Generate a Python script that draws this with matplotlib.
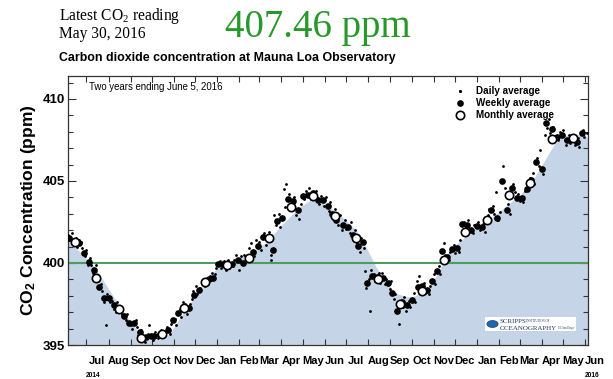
#!/usr/bin/env python3
"""Mauna Loa CO2 two-year record (Scripps style)."""

import matplotlib
matplotlib.use("Agg")
import matplotlib.pyplot as plt
import matplotlib.dates as mdates
import numpy as np
from matplotlib.lines import Line2D
from matplotlib.patches import Circle, Rectangle
from matplotlib.ticker import MultipleLocator, NullFormatter

W, H = 613, 379
START = np.datetime64("2014-06-05")
END = np.datetime64("2016-06-05")

monthly_months = [
    "2014-06", "2014-07", "2014-08", "2014-09", "2014-10", "2014-11", "2014-12",
    "2015-01", "2015-02", "2015-03", "2015-04", "2015-05", "2015-06", "2015-07",
    "2015-08", "2015-09", "2015-10", "2015-11", "2015-12", "2016-01", "2016-02",
    "2016-03", "2016-04", "2016-05",
]
monthly_ppm = [
    401.30, 399.06, 397.20, 395.44, 395.70, 397.27, 398.85,
    399.90, 400.30, 401.50, 403.40, 404.10, 402.85, 401.55,
    399.00, 397.50, 398.30, 400.20, 401.90, 402.65, 404.15,
    404.87, 407.55, 407.65,
]

# days after 2014-06-05
weekly_day = [
    2, 9, 16, 23, 29, 37, 44, 51, 57, 65, 72, 79, 86, 93, 101, 110, 117, 121,
    129, 141, 148, 155, 163, 170, 177, 184, 191, 198, 204, 211, 218, 223, 230,
    239, 246, 253, 260, 267, 274, 281, 288, 294, 301, 309, 316, 323, 330, 337,
    344, 351, 358, 365, 371, 377, 387, 394, 400, 408, 414, 421, 428, 435, 443,
    450, 456, 463, 469, 477, 484, 492, 498, 505, 512, 519, 526, 533, 540, 547,
    554, 561, 567, 575, 582, 588, 595, 603, 610, 617, 624, 631, 638, 645, 651,
    658, 666, 672, 680, 687, 694, 702, 709, 715, 722,
]
weekly_ppm = [
    401.55, 401.30, 401.22, 400.58, 400.07, 399.60, 398.55, 397.88, 397.88,
    397.43, 397.20, 396.76, 396.36, 396.36, 395.80, 395.50, 395.55, 395.55,
    395.70, 395.91, 396.52, 396.93, 397.30, 397.23, 398.04, 398.35, 398.75,
    399.00, 399.06, 399.91, 399.91, 399.90, 399.93, 400.21, 400.00, 400.30,
    400.70, 401.02, 401.59, 401.50, 400.82, 402.56, 402.74, 403.88, 403.78,
    403.21, 404.08, 404.12, 404.26, 403.86, 403.82, 403.45, 403.00, 402.60,
    402.34, 402.20, 401.70, 401.02, 401.28, 398.75, 399.22, 399.15, 399.10,
    398.79, 398.18, 397.09, 397.60, 397.43, 397.74, 398.55, 398.60, 398.35,
    398.90, 399.52, 400.74, 400.37, 400.84, 400.94, 402.40, 402.30, 402.00,
    402.24, 402.20, 402.60, 403.24, 402.77, 404.99, 403.25, 404.59, 403.98,
    403.98, 404.52, 405.04, 406.15, 405.71, 408.52, 408.18, 407.71, 407.81,
    407.51, 407.57, 407.40, 407.91,
]

daily_day = [
    0, 3, 5, 8, 11, 13, 15, 18, 20, 24, 26, 28, 31, 33, 35, 39, 40, 42, 46, 48,
    50, 53, 55, 59, 62, 64, 67, 69, 74, 76, 81, 83, 88, 90, 95, 97, 99, 103, 106,
    108, 112, 114, 119, 123, 125, 127, 131, 133, 136, 139, 143, 145, 150, 152,
    157, 159, 161, 165, 167, 172, 174, 176, 180, 182, 186, 188, 193, 195, 197,
    200, 202, 206, 208, 213, 215, 220, 222, 225, 227, 232, 234, 236, 241, 243,
    248, 250, 255, 257, 262, 264, 269, 271, 276, 278, 283, 285, 286, 290, 292,
    296, 298, 303, 305, 307, 311, 313, 318, 320, 325, 327, 332, 334, 339, 341,
    346, 348, 353, 355, 360, 362, 367, 369, 373, 375, 379, 382, 385, 389, 391,
    396, 398, 402, 404, 406, 410, 412, 416, 418, 419, 423, 425, 426, 430, 432,
    437, 439, 441, 445, 447, 452, 454, 458, 460, 465, 466, 471, 473, 475, 479,
    481, 486, 488, 490, 494, 496, 500, 502, 507, 509, 514, 516, 521, 523, 528,
    530, 535, 537, 542, 544, 549, 551, 556, 558, 563, 565, 569, 571, 577, 579,
    584, 586, 590, 592, 597, 599, 601, 605, 607, 612, 614, 619, 621, 626, 628,
    633, 635, 640, 642, 647, 649, 653, 655, 660, 662, 664, 668, 670, 674, 676,
    678, 682, 684, 689, 691, 696, 698, 700, 704, 706, 711, 713, 717, 719, 724,
    726, 729,
]
daily_ppm = [
    401.7, 401.4, 401.8, 401.1, 401.5, 401.0, 401.4, 401.3, 400.9, 400.4, 400.8,
    399.9, 400.3, 399.9, 399.4, 399.2, 399.9, 398.9, 398.7, 398.3, 397.6, 396.2,
    398.1, 397.6, 397.7, 397.2, 397.0, 397.6, 397.0, 396.9, 396.5, 396.9, 396.2,
    396.0, 396.5, 396.1, 395.6, 395.9, 395.4, 395.2, 395.7, 396.2, 395.3, 395.8,
    395.6, 395.4, 395.9, 395.5, 395.8, 396.1, 395.7, 396.3, 396.6, 396.2, 397.2,
    396.7, 397.6, 397.5, 396.9, 397.5, 397.8, 398.3, 398.6, 398.1, 398.5, 398.9,
    398.6, 399.1, 398.7, 399.2, 399.4, 399.3, 399.7, 400.1, 399.7, 400.1, 399.6,
    400.2, 399.7, 399.8, 400.2, 400.5, 399.6, 400.4, 400.5, 400.2, 400.9, 401.2,
    400.4, 401.4, 401.3, 400.8, 401.8, 401.1, 401.9, 400.5, 400.2, 402.9, 402.3,
    403.0, 402.2, 404.5, 403.4, 404.8, 404.2, 403.5, 404.0, 402.9, 402.7, 403.6,
    403.9, 404.4, 404.6, 403.9, 404.0, 404.4, 403.6, 404.1, 403.5, 404.0, 403.2,
    403.7, 402.9, 403.3, 402.3, 402.9, 402.0, 402.6, 402.1, 401.8, 402.5, 401.4,
    402.0, 401.2, 400.7, 401.5, 400.9, 399.5, 398.5, 399.0, 397.1, 399.6, 399.3,
    398.9, 399.4, 398.8, 399.4, 398.7, 399.0, 398.4, 398.9, 397.8, 398.1, 396.3,
    397.6, 397.3, 397.9, 397.1, 397.7, 397.3, 398.2, 397.6, 398.9, 399.2, 398.3,
    398.8, 398.2, 398.1, 398.6, 399.3, 398.7, 399.8, 399.3, 401.2, 400.5, 400.2,
    400.7, 401.1, 400.6, 400.7, 401.4, 402.5, 402.1, 402.6, 402.1, 401.8, 402.3,
    402.5, 402.0, 402.4, 401.9, 402.9, 403.3, 403.5, 403.0, 404.3, 402.6, 403.1,
    405.9, 404.6, 403.6, 403.0, 404.8, 404.3, 404.2, 403.8, 403.7, 404.4, 404.8,
    405.2, 405.5, 404.8, 406.4, 405.9, 406.9, 405.4, 407.8, 408.2, 408.8, 407.9,
    408.3, 407.7, 407.5, 408.0, 408.1, 407.5, 407.2, 407.8, 407.3, 407.8, 407.2,
    407.6, 407.1, 408.1, 407.7, 407.9,
]

# smooth seasonal curve under the data (shaded)
curve_day = [
    0, 17, 34, 51, 67, 84, 101, 115, 129, 143, 160, 177, 192, 209, 232, 256,
    279, 302, 326, 340, 347, 363, 377, 387, 405, 419, 433, 448, 462, 476, 485,
    494, 508, 522, 536, 550, 567, 590, 614, 637, 656, 670, 684, 698, 710, 721,
    731,
]
curve_ppm = [
    401.45, 400.66, 399.93, 398.83, 397.74, 396.64, 395.67, 395.30, 395.36,
    395.67, 396.85, 397.86, 398.77, 399.67, 400.17, 400.58, 401.28, 402.40,
    403.41, 403.82, 403.86, 403.55, 403.10, 402.75, 401.99, 400.98, 399.76,
    398.75, 398.14, 397.94, 397.94, 398.14, 398.55, 399.56, 400.78, 401.30,
    401.90, 402.60, 403.41, 404.23, 405.24, 406.25, 407.27, 407.77, 407.87,
    407.77, 407.67,
]

latest_value = "407.46 ppm"
latest_date = "May 30, 2016"


def days(offsets):
    return START + np.array(offsets, dtype="timedelta64[D]")


def px(x, y):
    return x / W, 1 - y / H


def main() -> None:
    plt.rcParams["font.family"] = ["Liberation Sans", "DejaVu Sans"]
    plt.rcParams["mathtext.fontset"] = "custom"
    plt.rcParams["mathtext.rm"] = "Liberation Serif"
    plt.rcParams["mathtext.bf"] = "Liberation Sans:bold"

    fig = plt.figure(figsize=(W / 100, H / 100), dpi=100)
    ax = fig.add_axes([68 / W, 34 / H, 520 / W, 269 / H])

    ax.fill_between(days(curve_day), curve_ppm, 390, color="#c5d5e7", lw=0, zorder=1)
    ax.axhline(400, color="#4e9c5e", lw=1.5, zorder=2)
    ax.plot(days(daily_day), daily_ppm, ls="none", marker="o", ms=1.0, color="black", zorder=3)
    ax.plot(days(weekly_day), weekly_ppm, ls="none", marker="o", ms=3.8, color="black", zorder=4)
    monthly_x = np.array(monthly_months, dtype="datetime64[M]").astype("datetime64[D]") + 14
    ax.plot(monthly_x, monthly_ppm, ls="none", marker="o", ms=6.0, mfc="white",
            mec="black", mew=1.2, zorder=5)

    ax.set_xlim(START, END)
    ax.set_ylim(395, 411.4)
    ax.set_yticks([395, 400, 405, 410])
    ax.yaxis.set_minor_locator(MultipleLocator(1))
    for lab in ax.get_yticklabels():
        lab.set_fontweight("bold")
        lab.set_fontsize(9.5)
    ax.xaxis.set_major_locator(mdates.MonthLocator())
    ax.xaxis.set_major_formatter(NullFormatter())
    ax.tick_params(axis="both", which="both", direction="in", top=True, right=True,
                   width=0.8, color="#333333")
    ax.tick_params(axis="x", which="major", length=4)
    ax.tick_params(axis="y", which="major", length=6, pad=2)
    ax.tick_params(axis="y", which="minor", length=3.5)
    for sp in ax.spines.values():
        sp.set_linewidth(0.9)
        sp.set_color("#333333")

    # month labels centred in each month, Jul 2014 .. Jun 2016
    label_months = np.arange(np.datetime64("2014-07"), np.datetime64("2016-07"))
    for m in label_months:
        mid = m.astype("datetime64[D]") + 14
        ax.text(mid, -0.06, m.astype(object).strftime("%b"), transform=ax.get_xaxis_transform(),
                ha="center", va="center", fontsize=8, fontweight="bold", clip_on=False)
    ax.text(label_months[0].astype("datetime64[D]") + 10, -0.115, "2014",
            transform=ax.get_xaxis_transform(), ha="center", va="center",
            fontsize=4.8, fontweight="bold", clip_on=False)
    ax.text(label_months[-1].astype("datetime64[D]") + 10, -0.115, "2016",
            transform=ax.get_xaxis_transform(), ha="center", va="center",
            fontsize=4.8, fontweight="bold", clip_on=False)

    ax.set_ylabel(r"CO$\mathbf{_2}$ Concentration (ppm)", fontsize=12.6, fontweight="bold")
    ax.yaxis.set_label_coords(-0.058, 0.5)

    # header
    fig.text(*px(59, 19.5), r"Latest CO$\mathrm{_2}$ reading", family="Liberation Serif",
             fontsize=11.2, va="baseline", ha="left")
    fig.text(*px(59, 38.5), latest_date, family="Liberation Serif", fontsize=11.2,
             va="baseline", ha="left")
    fig.text(*px(225, 37.5), latest_value, family="Liberation Serif", fontsize=28,
             color="#27982a", va="baseline", ha="left")
    fig.text(*px(59, 61), "Carbon dioxide concentration at Mauna Loa Observatory",
             fontsize=8.9, fontweight="bold", va="baseline", ha="left")
    fig.text(*px(89, 90), "Two years ending June 5, 2016", fontsize=6.9,
             va="baseline", ha="left")

    # legend
    legend_rows = [
        ("Daily average", 90.7, dict(ms=1.3, mfc="black", mec="black")),
        ("Weekly average", 102.5, dict(ms=3.8, mfc="black", mec="black")),
        ("Monthly average", 114.8, dict(ms=6.0, mfc="white", mec="black", mew=1.2)),
    ]
    for label, y, style in legend_rows:
        fx, fy = px(460, y)
        fig.add_artist(Line2D([fx], [fy], marker="o", ls="none", transform=fig.transFigure,
                              **style))
        fig.text(*px(476, y + 3.6), label, fontsize=7.1, fontweight="bold",
                 va="baseline", ha="left")

    # Scripps logo block
    fig.add_artist(Rectangle(px(485, 331), 91 / W, 14.5 / H, transform=fig.transFigure,
                             facecolor="white", edgecolor="none", zorder=6))
    fig.add_artist(Circle(px(492.5, 324), 5.6 / W, transform=fig.transFigure,
                          facecolor="#2266b0", edgecolor="#12407a", lw=0.5, zorder=7))
    fig.text(*px(499.5, 323), "SCRIPPS", family="Liberation Serif", fontsize=5,
             color="#1d3766", va="baseline", ha="left", zorder=8)
    fig.text(*px(526, 322.5), "INSTITUTION OF", family="Liberation Serif", fontsize=2.2,
             color="#1d3766", va="baseline", ha="left", zorder=8)
    fig.text(*px(499.5, 330), "OCEANOGRAPHY", family="Liberation Serif", fontsize=5,
             color="#1d3766", va="baseline", ha="left", zorder=8)
    fig.text(*px(558, 329.5), "UC San Diego", family="Liberation Serif", fontsize=2.0,
             color="#1d3766", va="baseline", ha="left", zorder=8)

    fig.savefig("out.png", dpi=100)
    plt.close(fig)


if __name__ == "__main__":
    main()
